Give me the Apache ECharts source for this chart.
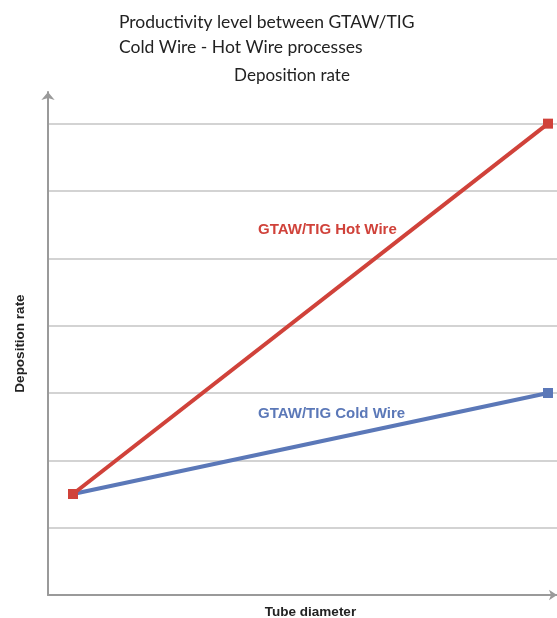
<!DOCTYPE html>
<html><head><meta charset="utf-8">
<script src="https://cdn.jsdelivr.net/npm/echarts@6/dist/echarts.min.js"></script>
<style>html,body{margin:0;padding:0;background:#fff}#c{width:557px;height:618px}</style>
</head><body><div id="c"></div>
<script>
const xPositions = [0, 1];
const hotWire = [1.5, 7];
const coldWire = [1.5, 3];
const titleLines = ['Productivity level between GTAW/TIG', 'Cold Wire - Hot Wire processes'];
const subtitle = 'Deposition rate';
const yName = 'Deposition rate';
const xName = 'Tube diameter';
const hotName = 'GTAW/TIG Hot Wire';
const coldName = 'GTAW/TIG Cold Wire';

const red = '#d0423a', blue = '#5b78b8';
const chart = echarts.init(document.getElementById('c'));
chart.setOption({
  animation: false,
  title: [
    {text: titleLines.join('\n'), left: 114, top: 5,
     textStyle: {fontFamily: 'Lato', fontWeight: 'normal', fontSize: 17.5, color: '#222', lineHeight: 25}},
    {text: subtitle, left: 287, textAlign: 'center', top: 62,
     textStyle: {fontFamily: 'Lato', fontWeight: 'normal', fontSize: 17, color: '#222'}}
  ],
  grid: {left: 48, right: 0, top: 92, bottom: 23, outerBoundsMode: 'none', containLabel: false},
  xAxis: {
    type: 'value', min: -0.0526, max: 1.019,
    name: xName, nameLocation: 'middle', nameGap: 10,
    nameTextStyle: {fontFamily: 'Liberation Sans', fontWeight: 'bold', fontSize: 13.5, color: '#222', padding: [0, 0, 0, 16]},
    axisLine: {onZero: false, lineStyle: {color: '#9a9a9a', width: 2}, symbol: ['none', 'arrow'], symbolSize: [8, 8]},
    axisTick: {show: false}, axisLabel: {show: false}, splitLine: {show: false}
  },
  yAxis: {
    type: 'value', min: 0, max: 7.47, interval: 1,
    name: yName, nameLocation: 'middle', nameGap: 21,
    nameTextStyle: {fontFamily: 'Liberation Sans', fontWeight: 'bold', fontSize: 13.5, color: '#222'},
    axisLine: {show: true, onZero: false, lineStyle: {color: '#9a9a9a', width: 2}, symbol: ['none', 'arrow'], symbolSize: [10, 8]},
    axisTick: {show: false}, axisLabel: {show: false},
    splitLine: {show: true, showMinLine: false, showMaxLine: false, lineStyle: {color: '#c4c4c4', width: 1.5}}
  },
  series: [
    {type: 'line', data: xPositions.map((x, i) => [x, coldWire[i]]), symbol: 'rect', symbolSize: 10,
     lineStyle: {color: blue, width: 4}, itemStyle: {color: blue}, z: 3},
    {type: 'line', data: xPositions.map((x, i) => [x, hotWire[i]]), symbol: 'rect', symbolSize: 10,
     lineStyle: {color: red, width: 4}, itemStyle: {color: red}, z: 4}
  ],
  graphic: [
    {type: 'text', left: 258, top: 222, style: {text: hotName, fill: red, font: 'bold 15px "Liberation Sans"'}},
    {type: 'text', left: 258, top: 406, style: {text: coldName, fill: blue, font: 'bold 15px "Liberation Sans"'}}
  ]
});
</script></body></html>
